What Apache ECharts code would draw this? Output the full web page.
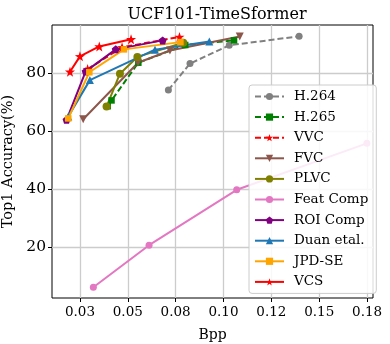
<!DOCTYPE html>
<html>
<head>
<meta charset="utf-8">
<script src="https://cdn.jsdelivr.net/npm/echarts@6/dist/echarts.min.js"></script>
<style>
  html, body { margin: 0; padding: 0; background: #fff; }
  #main { width: 390px; height: 344px; }
</style>
</head>
<body>
<div id="main"></div>
<script>
// bpp / top1 accuracy
const h264X = [0.0712, 0.0825, 0.1030, 0.1395];
const h264Y = [74.1, 83.2, 89.5, 92.6];
const h265X = [0.0395, 0.0415, 0.0555, 0.0800, 0.1055];
const h265Y = [68.5, 70.5, 83.5, 89.6, 91.2];
const vvcX = [0.029, 0.047, 0.077];
const vvcY = [81.3, 88.8, 92.4];
const fvcX = [0.0267, 0.0553, 0.0720, 0.1085];
const fvcY = [64.0, 83.5, 87.7, 92.5];
const plvcX = [0.0389, 0.0459, 0.0550, 0.0790];
const plvcY = [68.4, 79.7, 85.5, 90.4];
const featX = [0.0320, 0.0611, 0.1069, 0.1749];
const featY = [6.1, 20.6, 39.7, 55.7];
const roiX = [0.0180, 0.0280, 0.0437, 0.0682];
const roiY = [63.8, 80.5, 88.1, 91.2];
const duanX = [0.0189, 0.0302, 0.0642, 0.0926];
const duanY = [65.0, 77.5, 88.0, 90.8];
const jpdX = [0.0189, 0.0299, 0.0480, 0.0775];
const jpdY = [64.3, 80.2, 88.1, 90.6];
const vcsX = [0.0198, 0.0250, 0.0351, 0.0517];
const vcsY = [80.4, 85.7, 89.1, 91.6];

// tick labels
const xTicks = [0.025, 0.05, 0.075, 0.1, 0.125, 0.15, 0.175];
const xTickLabels = ['0.03', '0.05', '0.08', '0.10', '0.12', '0.15', '0.18'];
const yTicks = [20, 40, 60, 80];

const STAR = 'path://M0,-10 L2.35,-3.24 L9.51,-3.09 L3.8,1.24 L5.88,8.09 L0,4 L-5.88,8.09 L-3.8,1.24 L-9.51,-3.09 L-2.35,-3.24 Z';
const PENTA = 'path://M0,-10 L9.51,-3.09 L5.88,8.09 L-5.88,8.09 L-9.51,-3.09 Z';
const FONT = 'DejaVu Serif';

function pairs(xs, ys) {
    return xs.map((x, i) => [x, ys[i]]);
}

function makeSeries(name, xs, ys, color, symbol, opts) {
    opts = opts || {};
    return {
        name: name,
        type: 'line',
        data: pairs(xs, ys),
        symbol: symbol,
        symbolSize: opts.size || 7,
        symbolRotate: opts.rotate || 0,
        showAllSymbol: true,
        color: color,
        lineStyle: { width: 2, color: color, type: opts.dashed ? [6, 3] : 'solid' },
        itemStyle: { color: color },
        animation: false
    };
}

const chart = echarts.init(document.getElementById('main'));

const option = {
    animation: false,
    backgroundColor: '#fff',
    title: {
        text: 'UCF101-TimeSformer',
        left: 212,
        textAlign: 'center',
        top: 2,
        textStyle: { fontFamily: FONT, fontSize: 16, fontWeight: 'normal', color: '#000' }
    },
    grid: {
        left: 52, right: 17, top: 25, bottom: 46,
        outerBoundsMode: 'none',
        containLabel: false,
        show: true, borderColor: '#000', borderWidth: 1
    },
    xAxis: {
        type: 'value',
        min: 0.0104, max: 0.1781,
        name: 'Bpp',
        nameLocation: 'middle',
        nameGap: 30,
        nameTextStyle: { fontFamily: FONT, fontSize: 14, color: '#000' },
        axisLine: { show: false },
        axisTick: { show: true, length: 4, lineStyle: { color: '#000' }, customValues: xTicks },
        axisLabel: {
            fontFamily: FONT, fontSize: 13.5, color: '#000', margin: 7,
            customValues: xTicks,
            formatter: function (v) {
                const i = xTicks.findIndex(t => Math.abs(t - v) < 1e-9);
                return i >= 0 ? xTickLabels[i] : '';
            }
        },
        splitLine: { show: true, lineStyle: { color: '#cccccc', width: 1.3 } }
    },
    yAxis: {
        type: 'value',
        min: 2.4, max: 96.5,
        name: 'Top1 Accuracy(%)',
        nameLocation: 'middle',
        nameGap: 32,
        nameTextStyle: { fontFamily: FONT, fontSize: 14.5, color: '#000' },
        axisLine: { show: false },
        axisTick: { show: true, length: 4, lineStyle: { color: '#000' }, customValues: yTicks },
        axisLabel: { fontFamily: FONT, fontSize: 15.5, color: '#000', margin: 6, customValues: yTicks },
        splitLine: { show: true, lineStyle: { color: '#cccccc', width: 1.3 } }
    },
    legend: {
        orient: 'vertical',
        left: 249, top: 85,
        itemWidth: 29, itemHeight: 9, itemGap: 5.6,
        padding: [4, 8, 4, 5],
        backgroundColor: 'rgba(255,255,255,0.85)',
        borderColor: '#cccccc', borderWidth: 1, borderRadius: 3,
        textStyle: { fontFamily: FONT, fontSize: 13.5, lineHeight: 15, color: '#000', padding: [0, 0, 0, 5] },
        data: ['H.264', 'H.265', 'VVC', 'FVC', 'PLVC', 'Feat Comp', 'ROI Comp', 'Duan etal.', 'JPD-SE', 'VCS']
    },
    series: [
        makeSeries('H.264', h264X, h264Y, '#808080', 'circle', { dashed: true }),
        makeSeries('H.265', h265X, h265Y, '#008000', 'rect', { dashed: true, size: 6.5 }),
        makeSeries('VVC', vvcX, vvcY, '#ff0000', STAR, { dashed: true, size: 10 }),
        makeSeries('FVC', fvcX, fvcY, '#8c564b', 'triangle', { rotate: 180, size: 8 }),
        makeSeries('PLVC', plvcX, plvcY, '#808000', 'circle', { size: 8 }),
        makeSeries('Feat Comp', featX, featY, '#e377c2', 'circle', { size: 7 }),
        makeSeries('ROI Comp', roiX, roiY, '#800080', PENTA, { size: 8 }),
        makeSeries('Duan etal.', duanX, duanY, '#1f77b4', 'triangle', { size: 8 }),
        makeSeries('JPD-SE', jpdX, jpdY, '#ffa500', 'rect', { size: 6.5 }),
        makeSeries('VCS', vcsX, vcsY, '#ff0000', STAR, { size: 10 })
    ]
};

chart.setOption(option);
</script>
</body>
</html>
